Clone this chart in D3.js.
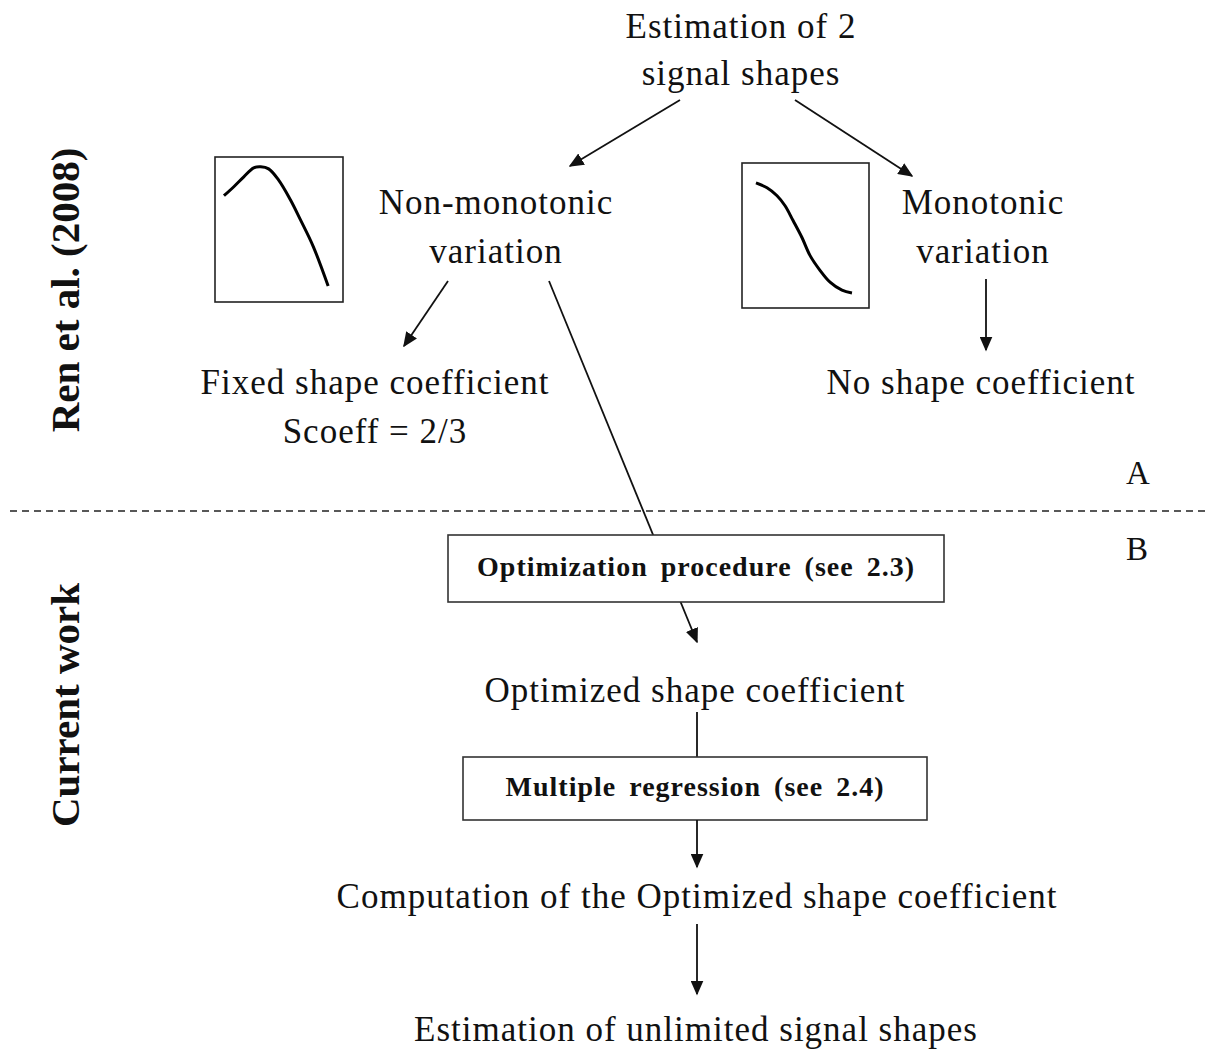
<!DOCTYPE html>
<html>
<head>
<meta charset="utf-8">
<script src="https://cdn.jsdelivr.net/npm/d3@7"></script>
<style>
  body { margin: 0; background: #fff; }
  text { font-family: "Liberation Serif", "Times New Roman", serif; fill: #111; }
</style>
</head>
<body>
<div id="chart"></div>
<script>
// ---- data ----
var topLabels = ["Estimation of 2", "signal shapes"];
var nonMonoLabels = ["Non-monotonic", "variation"];
var monoLabels = ["Monotonic", "variation"];
var fixedLabels = ["Fixed shape coefficient", "Scoeff = 2/3"];
var noCoeffLabel = "No shape coefficient";
var optBoxLabel = "Optimization procedure (see 2.3)";
var optimizedLabel = "Optimized shape coefficient";
var regBoxLabel = "Multiple regression (see 2.4)";
var computeLabel = "Computation of the Optimized shape coefficient";
var finalLabel = "Estimation of unlimited signal shapes";
var sectionLabels = ["Ren et al. (2008)", "Current work"];
var partLabels = ["A", "B"];

// sketched signal shapes, unit coordinates (x right, y up)
var nonMonoX = [0.07, 0.147, 0.225, 0.302, 0.357, 0.419, 0.496, 0.589, 0.667, 0.767, 0.884];
var nonMonoY = [0.733, 0.795, 0.863, 0.925, 0.932, 0.918, 0.842, 0.705, 0.568, 0.384, 0.110];
var monoX = [0.110, 0.197, 0.276, 0.339, 0.402, 0.472, 0.535, 0.614, 0.693, 0.787, 0.866];
var monoY = [0.863, 0.829, 0.774, 0.705, 0.603, 0.486, 0.363, 0.260, 0.178, 0.123, 0.103];

var width = 1209, height = 1054;

var svg = d3.select("#chart").append("svg")
    .attr("width", width)
    .attr("height", height);

svg.append("defs").append("marker")
    .attr("id", "arrow")
    .attr("viewBox", "0 0 10 10")
    .attr("refX", 9).attr("refY", 5)
    .attr("markerWidth", 15).attr("markerHeight", 13)
    .attr("markerUnits", "userSpaceOnUse")
    .attr("orient", "auto")
    .attr("preserveAspectRatio", "none")
    .append("path")
    .attr("d", "M0,0 L10,5 L0,10 Z")
    .style("fill", "#111");

var fs = 35;

function lines(labels, cx, y0, gap) {
    labels.forEach(function(t, i) {
        svg.append("text")
            .attr("x", cx).attr("y", y0 + i * gap)
            .attr("text-anchor", "middle")
            .style("font-size", fs + "px")
            .style("letter-spacing", "1px")
            .text(t);
    });
}

function arrow(x1, y1, x2, y2, head) {
    var l = svg.append("line")
        .attr("x1", x1).attr("y1", y1).attr("x2", x2).attr("y2", y2)
        .style("stroke", "#111").style("stroke-width", 1.8);
    if (head) l.attr("marker-end", "url(#arrow)");
}

function shapeBox(x0, y0, w, h, xs, ys) {
    svg.append("rect")
        .attr("x", x0).attr("y", y0).attr("width", w).attr("height", h)
        .style("fill", "none").style("stroke", "#222").style("stroke-width", 1.6);
    var sx = d3.scaleLinear().domain([0, 1]).range([x0, x0 + w]);
    var sy = d3.scaleLinear().domain([0, 1]).range([y0 + h, y0]);
    var line = d3.line()
        .x(function(d) { return sx(d[0]); })
        .y(function(d) { return sy(d[1]); })
        .curve(d3.curveCatmullRom);
    svg.append("path")
        .datum(d3.zip(xs, ys))
        .attr("d", line)
        .style("fill", "none").style("stroke", "#000").style("stroke-width", 3);
}

function boldBox(x0, y0, w, h, label, ty) {
    svg.append("rect")
        .attr("x", x0).attr("y", y0).attr("width", w).attr("height", h)
        .style("fill", "#fff").style("stroke", "#333").style("stroke-width", 1.6);
    svg.append("text")
        .attr("x", x0 + w / 2).attr("y", ty)
        .attr("text-anchor", "middle")
        .style("font-size", "28px").style("font-weight", "bold")
        .style("letter-spacing", "1px")
        .style("word-spacing", "5px")
        .text(label);
}

// top part
lines(topLabels, 741, 38, 47);
arrow(680, 100, 570, 166, true);
arrow(795, 100, 912, 176, true);

shapeBox(215, 157, 128, 145, nonMonoX, nonMonoY);
shapeBox(742, 163, 127, 145, monoX, monoY);

lines(nonMonoLabels, 496, 214, 49);
lines(monoLabels, 983, 214, 49);

arrow(448, 281, 404, 346, true);
arrow(986, 279, 986, 350, true);

lines(fixedLabels, 375, 394, 49);
lines([noCoeffLabel], 981, 394, 0);

// the long line from non-monotonic through the optimization box
arrow(549, 281, 697, 642, true);

// separator
svg.append("line")
    .attr("x1", 10).attr("y1", 511).attr("x2", width).attr("y2", 511)
    .style("stroke", "#222").style("stroke-width", 1.6)
    .style("stroke-dasharray", "7,5");

svg.append("text").attr("x", 1138).attr("y", 484)
    .attr("text-anchor", "middle").style("font-size", "33px").text(partLabels[0]);
svg.append("text").attr("x", 1137).attr("y", 560)
    .attr("text-anchor", "middle").style("font-size", "33px").text(partLabels[1]);

// bottom part
boldBox(448, 535, 496, 67, optBoxLabel, 576);
lines([optimizedLabel], 695, 702, 0);
arrow(697, 712, 697, 757, false);
boldBox(463, 757, 464, 63, regBoxLabel, 796);
arrow(697, 820, 697, 867, true);
lines([computeLabel], 697, 908, 0);
arrow(697, 924, 697, 994, true);
lines([finalLabel], 696, 1041, 0);

// section labels, rotated
[[sectionLabels[0], 290], [sectionLabels[1], 705]].forEach(function(d) {
    svg.append("text")
        .attr("transform", "translate(79," + d[1] + ") rotate(-90)")
        .attr("text-anchor", "middle")
        .style("font-size", "41px").style("font-weight", "bold")
        .text(d[0]);
});
</script>
</body>
</html>
